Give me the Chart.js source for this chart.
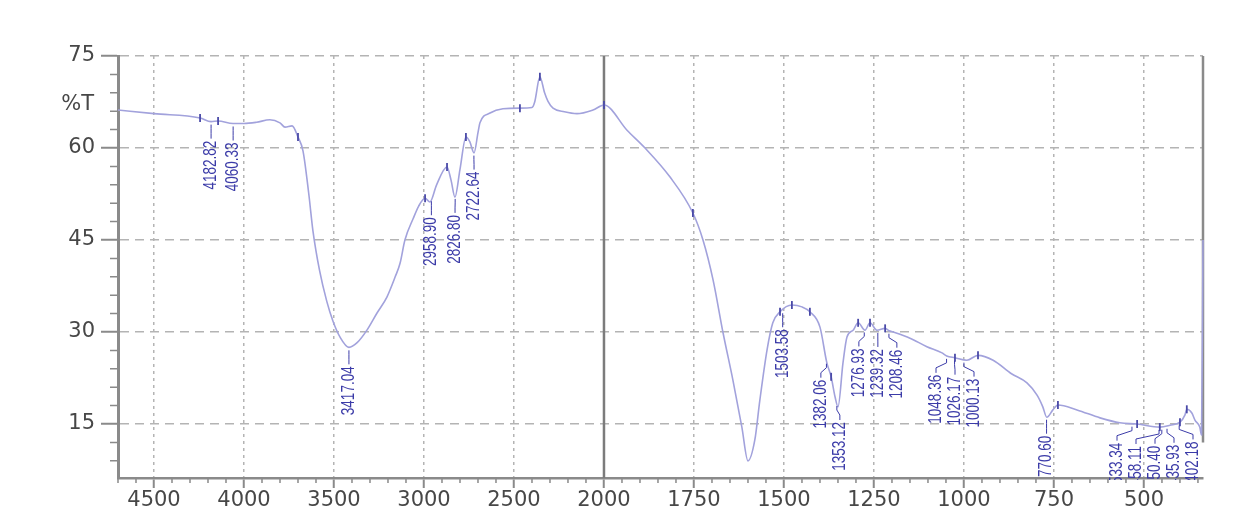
<!DOCTYPE html>
<html>
<head>
<meta charset="utf-8">
<title>FTIR spectrum</title>
<script src="https://cdn.jsdelivr.net/npm/chart.js@4.4.1/dist/chart.umd.min.js"></script>
<style>
  html, body { margin: 0; padding: 0; background: #fff; }
  #wrap { position: relative; width: 1247px; height: 506px; }
</style>
</head>
<body>
<div id="wrap"><canvas id="ftir"></canvas></div>
<script>
// spectrum (wavenumber cm-1 / %T)
const wavenumbers = [4700, 4500, 4244, 4183, 4144, 4061, 4000, 3930, 3856, 3800, 3772, 3733, 3700, 3672, 3640, 3617, 3580, 3540, 3506, 3467, 3417, 3370, 3317, 3261, 3206, 3160, 3133, 3106, 3060, 3030, 2994, 2967, 2930, 2872, 2850, 2828, 2800, 2767, 2745, 2722, 2700, 2689, 2633, 2561, 2467, 2400, 2385, 2356, 2330, 2311, 2283, 2220, 2150, 2061, 2000, 1936, 1886, 1817, 1753, 1725, 1697, 1669, 1642, 1617, 1600, 1581, 1567, 1547, 1531, 1511, 1478, 1450, 1428, 1400, 1381, 1369, 1358, 1350, 1336, 1325, 1308, 1294, 1275, 1261, 1242, 1219, 1208, 1197, 1150, 1103, 1061, 1048, 1025, 992, 961, 919, 868, 825, 797, 781, 770, 753, 739, 686, 622, 567, 519, 456, 428, 400, 386, 381, 367, 358, 345, 340, 336];
const transmittance = [66.2, 65.6, 64.9, 64.3, 64.4, 64.0, 64.0, 64.2, 64.6, 64.1, 63.4, 63.6, 61.8, 59.5, 52.5, 46.5, 40.0, 35.0, 31.8, 29.2, 27.5, 28.3, 30.3, 33.1, 35.7, 39.0, 41.2, 45.0, 48.5, 50.5, 51.8, 51.2, 54.0, 56.9, 54.8, 52.0, 56.5, 61.8, 61.0, 59.2, 62.5, 64.1, 65.7, 66.4, 66.5, 66.6, 67.5, 71.6, 69.0, 67.6, 66.5, 65.9, 65.6, 66.2, 67.0, 62.9, 60.0, 55.3, 49.4, 45.0, 38.5, 29.8, 22.2, 14.5, 9.0, 12.4, 18.9, 27.1, 31.5, 33.3, 34.4, 34.1, 33.3, 30.8, 25.0, 22.7, 19.4, 17.8, 25.0, 29.2, 30.3, 31.5, 30.3, 31.5, 30.3, 30.6, 30.2, 30.0, 29.0, 27.6, 26.6, 26.1, 25.8, 25.4, 26.2, 25.4, 23.2, 21.7, 19.7, 17.8, 16.1, 17.3, 18.1, 17.3, 16.0, 15.2, 15.0, 14.5, 14.8, 15.3, 16.5, 17.4, 16.8, 15.6, 14.5, 13.2, 45.0];

// small peak-pick ticks sitting on the trace
const markWavenumbers = [4244, 4144, 3700, 2994, 2872, 2767, 2467, 2356, 2000, 1753, 1511, 1478, 1428, 1369, 1294, 1261, 1219, 1025, 961, 739, 519, 456, 400, 381];

// peak labels
const peakWavenumbers = [4182.82, 4060.33, 3417.04, 2958.90, 2826.80, 2722.64, 1503.58, 1382.06, 1353.12, 1276.93, 1239.32, 1208.46, 1048.36, 1026.17, 1000.13, 770.60, 533.34, 458.11, 450.40, 435.93, 402.18];
const peakLabels = peakWavenumbers.map(w => w.toFixed(2));

const xTicks = [4500, 4000, 3500, 3000, 2500, 2000, 1750, 1500, 1250, 1000, 750, 500];
const yTicks = [15, 30, 45, 60, 75];
const yTitle = '%T';

const X_MIN = 336, X_MAX = 4700, Y_MIN = 6.2, Y_MAX = 75;
const BREAK_AT = 2000, HIGH_FACTOR = 0.5;   // above 2000 cm-1 the axis is squeezed 2x

const GRID = '#b4b4b4';
const AXIS = '#8a8a8a';
const TRACE = '#a2a2dc';
const INK = '#3b3ba8';
const TICK_TEXT = '#474747';

// x scale with a change of scale at 2000 cm-1
class BrokenScale extends Chart.LinearScale {
  static id = 'broken';
  static defaults = Chart.LinearScale.defaults;
  fold(v) { return v > BREAK_AT ? BREAK_AT + (v - BREAK_AT) * HIGH_FACTOR : v; }
  unfold(u) { return u > BREAK_AT ? BREAK_AT + (u - BREAK_AT) / HIGH_FACTOR : u; }
  getPixelForValue(v) {
    const a = this.fold(this.min), z = this.fold(this.max);
    return this.getPixelForDecimal((this.fold(v) - a) / (z - a));
  }
  getValueForPixel(p) {
    const a = this.fold(this.min), z = this.fold(this.max);
    return this.unfold(a + this.getDecimalForPixel(p) * (z - a));
  }
}
Chart.register(BrokenScale);

function interpT(w) {
  for (let i = 0; i < wavenumbers.length - 1; i++) {
    const w0 = wavenumbers[i], w1 = wavenumbers[i + 1];
    if (w <= w0 && w >= w1) {
      const t = (w0 - w) / (w0 - w1);
      return transmittance[i] + t * (transmittance[i + 1] - transmittance[i]);
    }
  }
  return transmittance[transmittance.length - 1];
}

// push crowded labels apart, keeping each group centred on its peaks
function spread(xs, gap, lo, hi) {
  let groups = xs.map((x, i) => ({ idx: [i], c: x }));
  const place = g => g.idx.map((_, k) => g.c + (k - (g.idx.length - 1) / 2) * gap);
  let merged = true;
  while (merged) {
    merged = false;
    for (let i = 0; i < groups.length - 1; i++) {
      const a = place(groups[i]), b = place(groups[i + 1]);
      if (b[0] - a[a.length - 1] < gap) {
        const idx = groups[i].idx.concat(groups[i + 1].idx);
        const c = idx.reduce((s, j) => s + xs[j], 0) / idx.length;
        groups.splice(i, 2, { idx, c });
        merged = true;
        break;
      }
    }
  }
  const out = [];
  groups.forEach(g => {
    let p = place(g);
    if (p[p.length - 1] > hi) p = p.map(v => v - (p[p.length - 1] - hi));
    if (p[0] < lo) p = p.map(v => v + (lo - p[0]));
    g.idx.forEach((j, k) => { out[j] = p[k]; });
  });
  return out;
}

const decorations = {
  id: 'decorations',
  beforeDatasetsDraw(chart) {
    const { ctx, chartArea: area, scales: { x, y } } = chart;
    ctx.save();
    // solid divider where the scale changes
    const xb = x.getPixelForValue(BREAK_AT);
    ctx.strokeStyle = '#7c7c7c';
    ctx.lineWidth = 2.5;
    ctx.beginPath(); ctx.moveTo(xb, area.top); ctx.lineTo(xb, area.bottom); ctx.stroke();
    // right frame
    ctx.strokeStyle = AXIS;
    ctx.lineWidth = 2.5;
    ctx.beginPath(); ctx.moveTo(area.right, area.top); ctx.lineTo(area.right, y.getPixelForValue(12)); ctx.stroke();
    // minor ticks
    ctx.lineWidth = 1.5;
    ctx.beginPath();
    for (let w = 4700; w > BREAK_AT; w -= 100) {
      if (w % 500 === 0) continue;
      const px = x.getPixelForValue(w);
      ctx.moveTo(px, area.bottom); ctx.lineTo(px, area.bottom + 5);
    }
    for (let w = BREAK_AT - 50; w >= 350; w -= 50) {
      if (w % 250 === 0) continue;
      const px = x.getPixelForValue(w);
      ctx.moveTo(px, area.bottom); ctx.lineTo(px, area.bottom + 5);
    }
    for (let v = 9; v < Y_MAX; v += 3) {
      if (v % 15 === 0) continue;
      const py = y.getPixelForValue(v);
      ctx.moveTo(area.left - 8, py); ctx.lineTo(area.left, py);
    }
    ctx.stroke();
    // %T
    ctx.fillStyle = TICK_TEXT;
    ctx.font = '21px "DejaVu Sans", sans-serif';
    ctx.textAlign = 'right';
    ctx.textBaseline = 'middle';
    ctx.fillText(yTitle, area.left - 24, y.getPixelForValue(67.1));
    ctx.restore();
  },
  afterDatasetsDraw(chart) {
    const { ctx, chartArea: area, scales: { x, y } } = chart;
    const px = peakWavenumbers.map(w => x.getPixelForValue(w));
    const tx = spread(px, 19, area.left + 10, area.right - 10);
    ctx.save();
    ctx.beginPath();
    ctx.rect(area.left, area.top, area.right - area.left, area.bottom - area.top + 2);
    ctx.clip();
    ctx.strokeStyle = INK;
    ctx.fillStyle = INK;
    ctx.lineWidth = 1;
    ctx.font = '13.5px "Liberation Sans", Arial, sans-serif';
    peakWavenumbers.forEach((w, i) => {
      const py = y.getPixelForValue(interpT(w));
      ctx.beginPath();
      ctx.moveTo(px[i], py + 3);
      ctx.lineTo(px[i], py + 7);
      ctx.lineTo(tx[i], py + 12);
      ctx.lineTo(tx[i], py + 17);
      ctx.stroke();
      ctx.save();
      ctx.translate(tx[i], py + 19);
      ctx.rotate(-Math.PI / 2);
      ctx.scale(1, 1.3);
      ctx.textAlign = 'right';
      ctx.textBaseline = 'middle';
      ctx.fillText(peakLabels[i], 0, 0);
      ctx.restore();
    });
    ctx.restore();
  }
};

const spectrum = wavenumbers.map((w, i) => ({ x: w, y: transmittance[i] }));
const marks = markWavenumbers.map(w => ({ x: w, y: transmittance[wavenumbers.indexOf(w)] }));

new Chart(document.getElementById('ftir'), {
  type: 'line',
  data: {
    datasets: [
      {
        label: 'marks', data: marks, showLine: false,
        pointStyle: 'line', rotation: 90, pointRadius: 4, pointHoverRadius: 4,
        borderColor: '#4a4aa8', borderWidth: 1.8, backgroundColor: '#4a4aa8'
      },
      {
        label: '%T', data: spectrum, borderColor: TRACE, borderWidth: 1.6,
        pointRadius: 0, cubicInterpolationMode: 'monotone', fill: false, clip: 3
      }
    ]
  },
  options: {
    responsive: true,
    maintainAspectRatio: false,
    animation: false,
    parsing: false,
    layout: { padding: { top: 56, right: 44, left: 0, bottom: 0 } },
    plugins: { legend: { display: false }, tooltip: { enabled: false } },
    scales: {
      x: {
        type: 'broken', reverse: true, min: X_MIN, max: X_MAX, bounds: 'data',
        afterBuildTicks: s => { s.ticks = xTicks.map(v => ({ value: v })); },
        afterFit: s => { s.height = 28; },
        ticks: {
          autoSkip: false, maxRotation: 0, minRotation: 0, padding: 0, color: TICK_TEXT,
          font: { family: '"DejaVu Sans", sans-serif', size: 21 },
          callback: v => String(v)
        },
        grid: { color: GRID, lineWidth: 1.5, tickLength: 10, tickColor: AXIS, tickWidth: 2, tickBorderDash: [] },
        border: { display: true, color: AXIS, width: 2.5, dash: [3, 4] }
      },
      y: {
        type: 'linear', min: Y_MIN, max: Y_MAX, bounds: 'data',
        afterBuildTicks: s => { s.ticks = yTicks.map(v => ({ value: v })); },
        afterFit: s => { s.width = 118; },
        ticks: {
          padding: 6, color: TICK_TEXT,
          font: { family: '"DejaVu Sans", sans-serif', size: 21 },
          callback: v => String(v)
        },
        grid: { color: GRID, lineWidth: 1.5, tickLength: 17, tickColor: AXIS, tickWidth: 2, tickBorderDash: [] },
        border: { display: true, color: AXIS, width: 3, dash: [9, 6] }
      }
    }
  },
  plugins: [decorations]
});
</script>
</body>
</html>
